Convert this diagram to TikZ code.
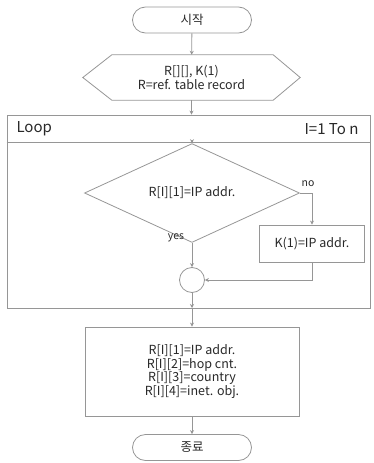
\documentclass[tikz,border=0pt]{standalone}
\usepackage{fontspec}
\setmainfont{Noto Sans CJK KR}
\usetikzlibrary{shapes.geometric,shapes.misc,arrows.meta}
\definecolor{ln}{RGB}{150,150,150}
\definecolor{tx}{RGB}{40,40,40}
\tikzset{
  every node/.style={text=tx, font=\fontsize{12.5}{13.5}\selectfont},
  term/.style={draw=ln, line width=0.8pt, rounded rectangle, minimum width=119pt, minimum height=26pt, inner sep=0pt},
  boxx/.style={draw=ln, line width=0.8pt, rectangle, inner sep=0pt, align=center},
  lnk/.style={draw=ln, line width=0.8pt, -{Stealth[length=4pt,width=4pt]}},
  plain/.style={draw=ln, line width=0.8pt},
  lbl/.style={font=\fontsize{10.5}{12}\selectfont, inner sep=0pt}
}
\begin{document}
\begin{tikzpicture}[x=1pt,y=-1pt]
\useasboundingbox (0,0) rectangle (373,463);
\node[term] (start) at (192,20) {시작};
\node[rectangle, minimum width=217pt, minimum height=45pt, inner sep=0pt, align=center] (init) at (191.5,77.5) {R[][], K(1)\\R=ref. table record};
\draw[plain] (init.west) -- ([xshift=29pt]init.north west) -- ([xshift=-27pt]init.north east) -- (init.east) -- ([xshift=-27pt]init.south east) -- ([xshift=29pt]init.south west) -- cycle;
\node[boxx, minimum width=363pt, minimum height=193pt] (loop) at (188.5,211.5) {};
\draw[plain] ([yshift=-28pt]loop.north west) -- ([yshift=-28pt]loop.north east);
\node[anchor=west, font=\fontsize{15}{16}\selectfont] (looplbl) at (13,129) {Loop};
\node[anchor=east, font=\fontsize{15}{16}\selectfont] (range) at (362,129) {I=1 To n};
\coordinate (hdr) at (192,143);
\node[draw=ln, line width=0.8pt, diamond, minimum width=215pt, minimum height=65pt, inner sep=0pt] (dec) at (192,193) {R[I][1]=IP addr.};
\node[boxx, minimum width=105pt, minimum height=37pt] (kbox) at (312,243.5) {K(1)=IP addr.};
\node[draw=ln, line width=0.8pt, circle, minimum size=25pt, inner sep=0pt] (circ) at (192,280) {};
\node[boxx, minimum width=214pt, minimum height=89pt] (rec) at (192,371.5) {R[I][1]=IP addr.\\R[I][2]=hop cnt.\\R[I][3]=country\\R[I][4]=inet. obj.};
\node[term] (stop) at (192,447.5) {종료};
\node[lbl] (no) at (308,184) {no};
\node[lbl] (yes) at (176,238) {yes};
\coordinate (lbot) at (192,308);
\draw[lnk] (start) -- (init);
\draw[lnk] (init.south) -- (init.south |- loop.north);
\draw[lnk] (hdr) -- (dec.north);
\draw[lnk] (dec.east) -| (kbox.north);
\draw[lnk] (dec.south) -- (circ.north);
\draw[lnk] (kbox.south) |- (circ.east);
\draw[lnk] (circ.south) -- (lbot);
\draw[lnk] (lbot) -- (rec.north);
\draw[lnk] (rec.south) -- (stop.north);
\end{tikzpicture}
\end{document}
